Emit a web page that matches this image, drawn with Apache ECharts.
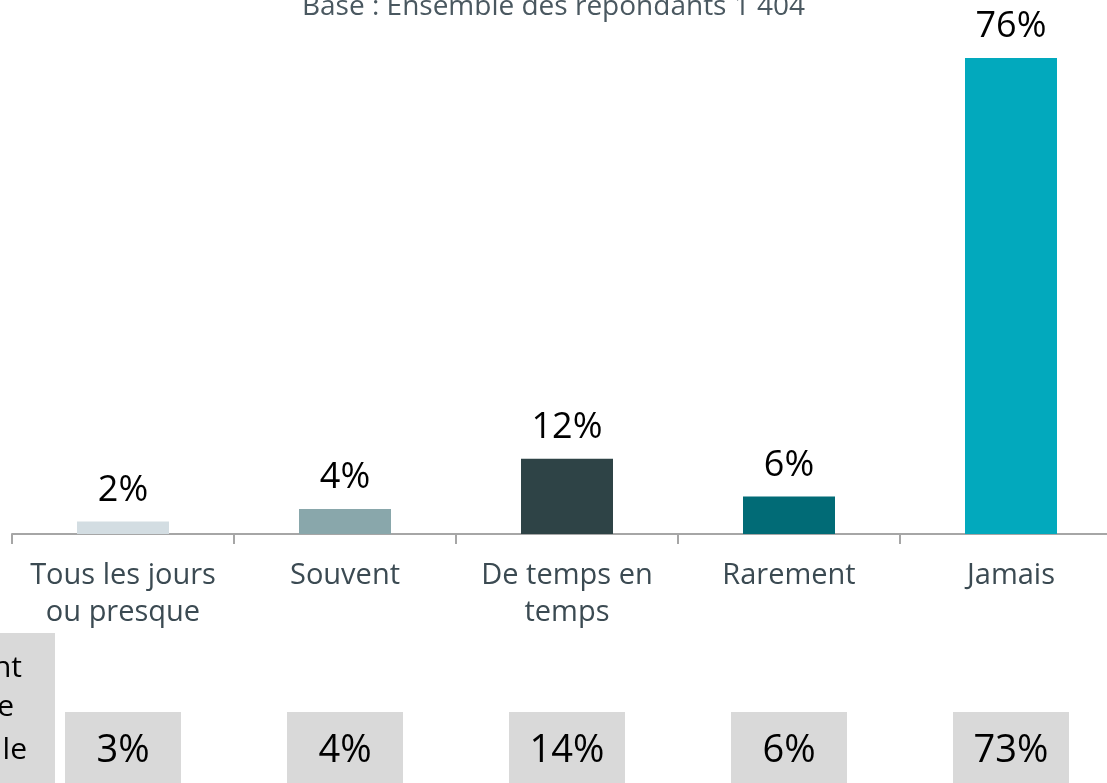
<!DOCTYPE html>
<html><head>
<meta charset="UTF-8">
<title>Fréquence</title>
<script src="https://cdn.jsdelivr.net/npm/echarts@6/dist/echarts.min.js"></script>
<style>
  html, body { margin: 0; padding: 0; background: #fff; }
  #chart { width: 1107px; height: 783px; }
</style>
</head>
<body>
<div id="chart"></div>
<script>
// categories
var categories = ['Tous les jours\nou presque', 'Souvent', 'De temps en\ntemps', 'Rarement', 'Jamais'];
// current wave (%)
var values = [2, 4, 12, 6, 76];
// previous wave shown in grey boxes (%)
var prevValues = [3, 4, 14, 6, 73];
var barColors = ['#d3dde2', '#89a7ab', '#2e4346', '#016b76', '#02a9bd'];
var title = 'Base : Ensemble des repondants 1 404';

var chart = echarts.init(document.getElementById('chart'));

var option = {
    animation: false,
    title: {
        text: title,
        left: 'center',
        top: -12,
        textStyle: { fontFamily: 'Open Sans', fontWeight: 'normal', fontSize: 28, color: '#4a5860' }
    },
    grid: [
        { left: 12, width: 1110, top: 33, height: 501, outerBoundsMode: 'none', containLabel: false },
        { left: 12, width: 1110, top: 712, height: 90, outerBoundsMode: 'none', containLabel: false }
    ],
    xAxis: [{
        type: 'category',
        data: categories,
        axisLine: { lineStyle: { color: '#a6a6a6', width: 2 } },
        axisTick: { show: true, length: 10, lineStyle: { color: '#a6a6a6', width: 2 } },
        axisLabel: {
            interval: 0, margin: 23, lineHeight: 37,
            fontFamily: 'Open Sans', fontSize: 29, color: '#3b4a52'
        }
    }, {
        type: 'category', gridIndex: 1, data: categories, show: false
    }],
    yAxis: [
        { type: 'value', min: 0, max: 80, show: false, splitLine: { show: false } },
        { type: 'value', gridIndex: 1, min: -1, max: 1, show: false, splitLine: { show: false } }
    ],
    series: [{
        type: 'bar',
        barWidth: 92,
        data: values.map(function (v, i) {
            return { value: v, itemStyle: { color: barColors[i] } };
        }),
        label: {
            show: true, position: 'top', distance: 13,
            formatter: '{c}%',
            fontFamily: 'Open Sans', fontSize: 36, color: '#000'
        }
    }, {
        type: 'scatter',
        xAxisIndex: 1, yAxisIndex: 1,
        symbol: 'rect',
        symbolSize: [116, 90],
        itemStyle: { color: '#d9d9d9', opacity: 1 },
        emphasis: { disabled: true },
        data: prevValues.map(function (v, i) { return [i, 0]; }),
        label: {
            show: true, position: 'inside', offset: [0, -6],
            formatter: function (p) { return prevValues[p.dataIndex] + '%'; },
            fontFamily: 'Open Sans', fontSize: 38, color: '#000'
        }
    }],
    graphic: [
        { type: 'rect', shape: { x: 0, y: 633, width: 55, height: 150 }, style: { fill: '#d9d9d9' } },
        { type: 'text', x: 22, y: 668, style: { text: 'nt', align: 'right', verticalAlign: 'middle', font: '30px "Open Sans"', fill: '#000' } },
        { type: 'text', x: 14, y: 707, style: { text: 'e', align: 'right', verticalAlign: 'middle', font: '30px "Open Sans"', fill: '#000' } },
        { type: 'text', x: 27, y: 750, style: { text: 'le', align: 'right', verticalAlign: 'middle', font: '30px "Open Sans"', fill: '#000' } }
    ]
};

chart.setOption(option);
</script>
</body></html>
